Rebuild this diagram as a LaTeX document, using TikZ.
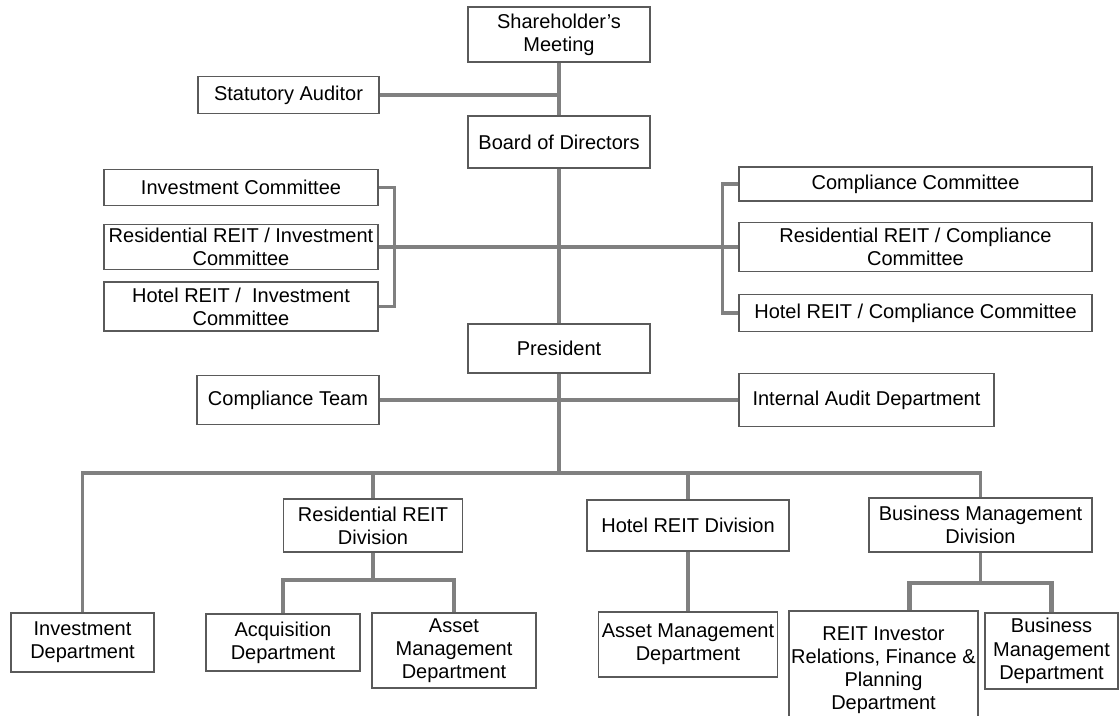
\documentclass[tikz,border=0pt]{standalone}
\usepackage{fontspec}
\setmainfont{Liberation Sans}
\usepackage{tikz}
\usetikzlibrary{calc}
\tikzset{
    % Style for the boxes of the chart
    box/.style={
        draw=boxLine,
        fill=white,
        line width=0.75pt,
        inner sep=1pt,
        align=center,
        font=\fontsize{10pt}{11.6pt}\selectfont
    },
    % Style for the grey connectors
    link/.style={draw=linkGray, line width=1.6pt},
    sublink/.style={draw=linkGray, line width=2.3pt}
}
\definecolor{boxLine}{RGB}{90,90,90}
\definecolor{linkGray}{RGB}{128,128,128}

\begin{document}
\begin{tikzpicture}[x=0.5pt,y=-0.5pt]

% Set the canvas size
\clip (0,0) rectangle (1120,716);

% Top of the company
\node[box, minimum width=91pt, minimum height=27.5pt] (share) at (559,34.5) {Shareholder’s\\Meeting};
\node[box, minimum width=90.5pt, minimum height=18.5pt] (auditor) at (288.5,95) {Statutory Auditor};
\node[box, minimum width=91pt, minimum height=26pt] (board) at (559,142) {Board of Directors};

% Committees
\node[box, minimum width=137pt, minimum height=18pt] (invcom) at (241,187.5) {Investment Committee};
\node[box, minimum width=137pt, minimum height=22.5pt] (resinv) at (241,247) {Residential REIT / Investment\\Committee};
\node[box, minimum width=137pt, minimum height=24.5pt] (hotinv) at (241,306.5) {Hotel REIT / \ Investment\\Committee};

\node[box, minimum width=176.5pt, minimum height=17pt] (compcom) at (915.5,184) {Compliance Committee};
\node[box, minimum width=176.5pt, minimum height=24.5pt] (rescomp) at (915.5,247) {Residential REIT / Compliance\\Committee};
\node[box, minimum width=176.5pt, minimum height=18.5pt] (hotcomp) at (915.5,313) {Hotel REIT / Compliance Committee};

% President level
\node[box, minimum width=91pt, minimum height=24.5pt] (president) at (559,348.5) {President};
\node[box, minimum width=91pt, minimum height=24.5pt] (compteam) at (288,400) {Compliance Team};
\node[box, minimum width=127.5pt, minimum height=26.5pt] (intaudit) at (866.5,400) {Internal Audit Department};

% Divisions
\node[box, minimum width=71.5pt, minimum height=29.5pt] (invdept) at (82.5,642.5) {Investment\\Department};
\node[box, minimum width=89.5pt, minimum height=26.5pt] (resdiv) at (373,525.5) {Residential REIT\\Division};
\node[box, minimum width=101pt, minimum height=25.5pt] (hotdiv) at (688,525.5) {Hotel REIT Division};
\node[box, minimum width=111.5pt, minimum height=27pt] (busdiv) at (980.5,525) {Business Management\\Division};

% Departments
\node[box, minimum width=77pt, minimum height=28.5pt] (acqdept) at (283,642.5) {Acquisition\\Department};
\node[box, minimum width=82pt, minimum height=37.5pt] (resasset) at (454,650.5) {Asset\\Management\\Department};
\node[box, minimum width=89.5pt, minimum height=32.5pt] (hotasset) at (688,644.5) {Asset Management\\Department};
\node[box, minimum width=92.5pt, minimum height=59pt] (irdept) at (883.5,670) {REIT Investor\\Relations, Finance \&\\Planning\\Department};
\node[box, minimum width=66.5pt, minimum height=38pt] (busdept) at (1051.5,651) {Business\\Management\\Department};

% Connectors of the upper part
\draw[link] (share.south) -- (board.north);
\draw[link] (auditor.east) -- (auditor.east -| share.south);
\draw[link] (board.south) -- (president.north);

\draw[link] (invcom.east) -- ++(16,0) |- (hotinv.east);
\draw[link] (compcom.west) -- ++(-16,0) |- (hotcomp.west);
\draw[link] (resinv.east) -- (rescomp.west);

\draw[link] (compteam.east) -- (intaudit.west);

% Connectors of the lower part
\coordinate (mainbus) at (559,473);
\draw[link] (president.south) -- (mainbus);
\draw[link] (invdept.north) |- (mainbus) -| (busdiv.north);
\draw[link] (resdiv.north) -- (resdiv.north |- mainbus);
\draw[link] (hotdiv.north) -- (hotdiv.north |- mainbus);

\coordinate (resbus) at (373,580);
\draw[link] (resdiv.south) -- (resbus);
\draw[sublink] (acqdept.north) |- (resbus) -| (resasset.north);

\draw[link] (hotdiv.south) -- (hotasset.north);

\coordinate (busbus) at (980.5,583);
\coordinate (irtop) at ($(irdept.north)+(26,0)$);
\draw[link] (busdiv.south) -- (busbus);
\draw[sublink] (irtop) |- (busbus) -| (busdept.north);

\end{tikzpicture}
\end{document}
